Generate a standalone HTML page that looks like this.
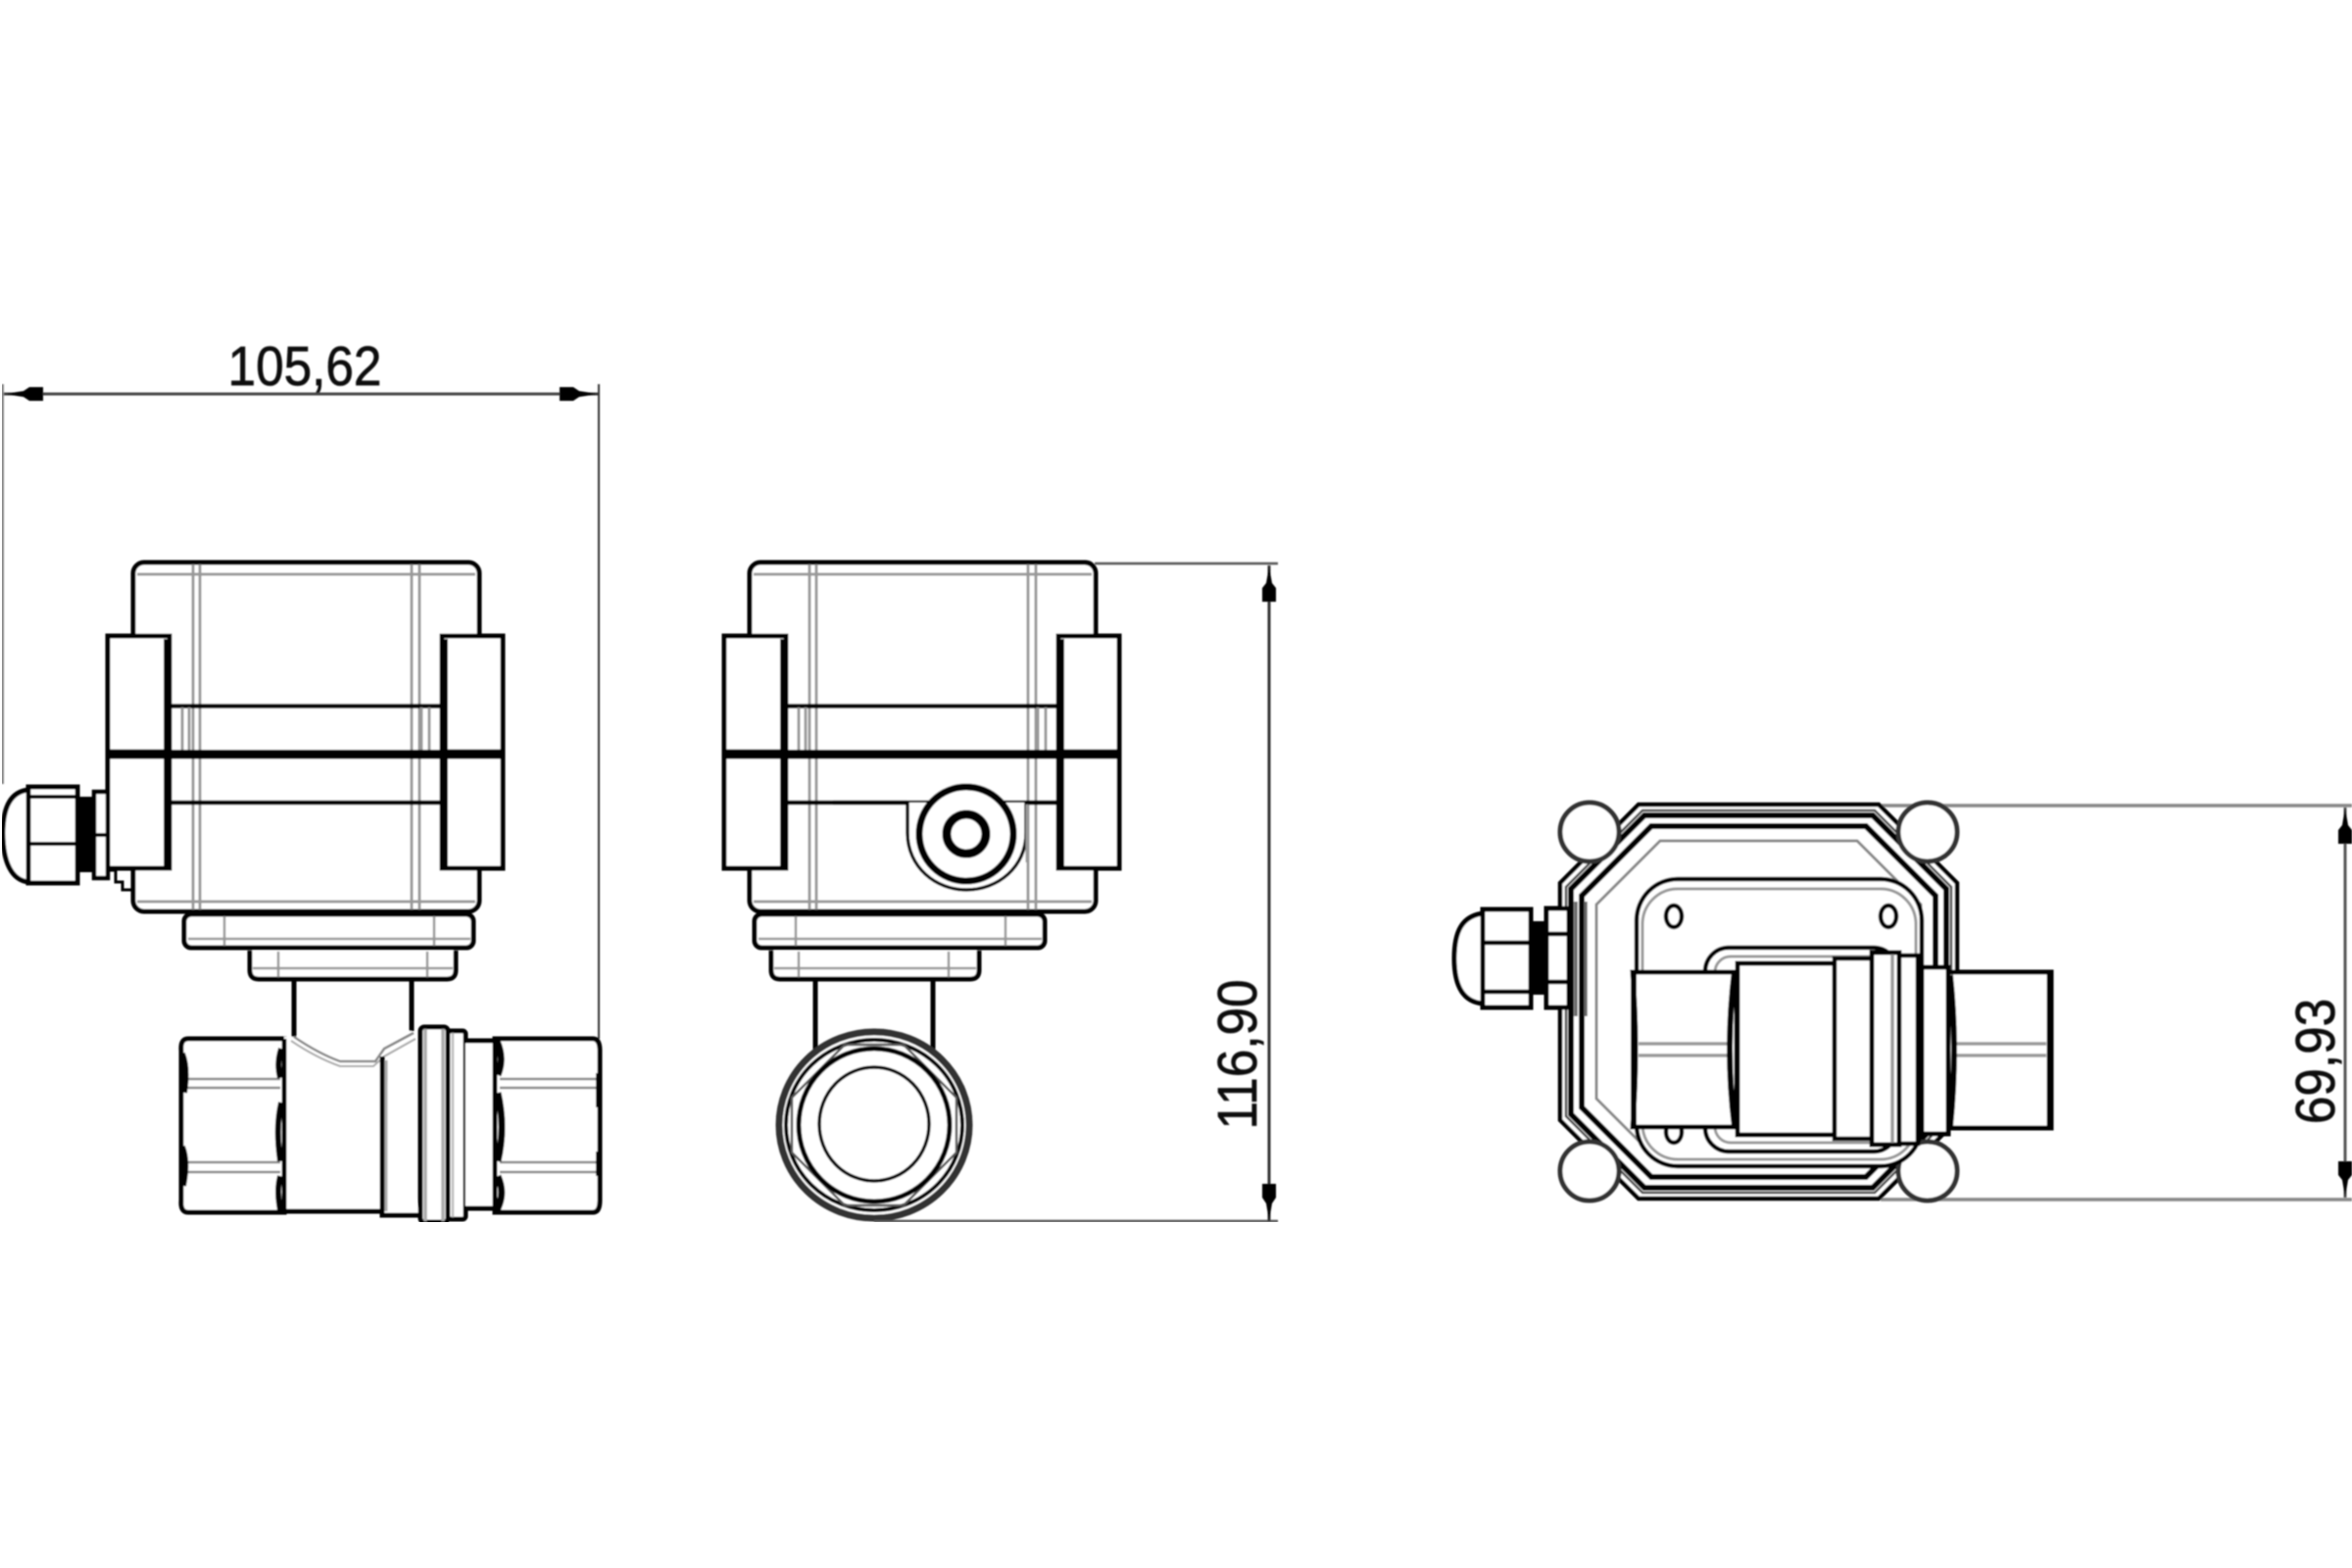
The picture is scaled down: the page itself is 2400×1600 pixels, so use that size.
<!DOCTYPE html>
<html><head><meta charset="utf-8"><style>html,body{margin:0;padding:0;background:#fff}svg{display:block}text{font-family:"Liberation Sans",sans-serif;font-size:57px;fill:#111;stroke:#111;stroke-width:.7;text-anchor:middle}</style></head>
<body>
<svg xmlns="http://www.w3.org/2000/svg" width="2400" height="1600" viewBox="0 0 2400 1600">
<defs>
<filter id="b" x="0" y="0" width="100%" height="100%"><feGaussianBlur stdDeviation="0.7"/></filter>
<g id="act">
  <rect x="136" y="574" width="353" height="356" rx="11" fill="#fff" stroke="#000" stroke-width="5"/>
  <g stroke="#999" stroke-width="3" fill="none">
    <path d="M140 586H485M140 920H485"/>
    <path d="M197 576V928M204 576V928M420 576V928M428 576V928"/>
  </g>
  <path d="M173 720.5H451M173 819H451" stroke="#000" stroke-width="4.5" fill="none"/>
  <path d="M186 722V766M193 722V766M430 722V766M438 722V766" stroke="#999" stroke-width="3"/>
  <g fill="#fff" stroke="#000" stroke-width="5">
    <path d="M110 649H173V767H110Z"/>
    <path d="M451 649H513V767H451Z"/>
    <path d="M110 772H173V886H110Z"/>
    <path d="M451 772H513V886H451Z"/>
  </g>
  <path d="M169 652V884M455 652V884" stroke="#000" stroke-width="4" fill="none"/>
  <path d="M110 767.5H513M110 772H513" stroke="#000" stroke-width="5"/>
</g>
</defs>
<rect width="2400" height="1600" fill="#fff"/>
<g filter="url(#b)">

<!-- top dimension -->
<path d="M2 402H611" stroke="#444" stroke-width="3"/>
<path d="M4 402L24 399L30 395L44 395V409L30 409L24 405Z" fill="#000"/>
<path d="M611 402L591 399L585 395L571 395V409L585 409L591 405Z" fill="#000"/>
<path d="M2 392V800" stroke="#888" stroke-width="4"/>
<path d="M611 392V1060" stroke="#333" stroke-width="2"/>
<text transform="translate(311,393) scale(.9,1)">105,62</text>

<!-- LEFT VIEW -->
<use href="#act"/>
<rect x="188" y="933" width="295" height="34" rx="7" fill="#fff" stroke="#000" stroke-width="5"/>
<path d="M192 958H480M229 935V965M443 935V965" stroke="#999" stroke-width="2.5" fill="none"/>
<path d="M255 970V990Q255 999 264 999H456Q465 999 465 990V970" fill="#fff" stroke="#000" stroke-width="5"/>
<path d="M258 988H462M284 971V997M436 971V997" stroke="#999" stroke-width="2.5" fill="none"/>
<path d="M300 999V1058M420 999V1052" stroke="#000" stroke-width="5" fill="none"/>
<!-- gland left -->
<path d="M29 806C10 808 3 825 3 850C3 880 12 898 29 900Z" fill="#fff" stroke="#000" stroke-width="5"/>
<rect x="29" y="803" width="50" height="98" fill="#fff" stroke="#000" stroke-width="5"/>
<path d="M29 861H79M29 813H79" stroke="#000" stroke-width="4"/>
<rect x="79" y="813" width="19" height="77" fill="#000"/>
<path d="M96 808H110V896H96Z" fill="#fff" stroke="#000" stroke-width="4.5"/>
<path d="M98 852H110" stroke="#000" stroke-width="4"/>
<path d="M110 888H118V900H125V908H134" fill="none" stroke="#000" stroke-width="3"/>
<!-- valve -->
<path d="M192 1060H290V1237H192Q184 1237 185 1225V1072Q184 1060 192 1060Z" fill="#fff" stroke="#000" stroke-width="5"/>
<path d="M188 1101H286M188 1110H286M188 1186H286M188 1196H286" stroke="#888" stroke-width="2.5"/>
<path d="M186 1075Q192 1090 188 1115M186 1170Q192 1185 187 1210" fill="none" stroke="#000" stroke-width="6"/>
<path d="M287 1070Q282 1085 286 1100M287 1125Q281 1150 286 1185M286 1200Q282 1215 286 1235" fill="none" stroke="#000" stroke-width="6"/>
<path d="M290 1058V1236H390V1070L420 1052L300 1058Z" fill="#fff"/>
<path d="M300 1058Q325 1075 347 1083H383L392 1070L422 1054" fill="none" stroke="#888" stroke-width="2.5"/>
<path d="M297 1062Q322 1079 347 1088H381L392 1078L424 1060" fill="none" stroke="#aaa" stroke-width="2"/>
<path d="M290 1060V1236H390" fill="none" stroke="#000" stroke-width="5"/>
<path d="M390 1078V1240H428" fill="#fff" stroke="#000" stroke-width="5"/>
<path d="M394 1082V1236" stroke="#aaa" stroke-width="3"/>
<rect x="429" y="1048" width="28" height="199" rx="4" fill="#fff" stroke="#000" stroke-width="5"/>
<path d="M434 1050V1246M452 1050V1246" stroke="#aaa" stroke-width="3.5"/>
<rect x="457" y="1052" width="18" height="192" rx="3" fill="#fff" stroke="#000" stroke-width="5"/>
<path d="M462 1054V1242" stroke="#bbb" stroke-width="2.5"/>
<path d="M475 1062H505V1233H475" fill="#fff" stroke="#000" stroke-width="5"/>
<path d="M505 1060H605Q612 1060 612 1072V1225Q612 1237 605 1237H505Z" fill="#fff" stroke="#000" stroke-width="5"/>
<path d="M510 1101H608M510 1110H608M510 1186H608M510 1196H608" stroke="#888" stroke-width="2.5"/>
<path d="M507 1062Q515 1080 508 1097M508 1115Q516 1150 508 1185M508 1200Q516 1218 507 1235" fill="none" stroke="#000" stroke-width="7"/>
<path d="M611 1095V1130M611 1175V1200" stroke="#000" stroke-width="6"/>

<!-- MIDDLE VIEW -->
<use href="#act" x="629"/>
<path d="M926 819V850C926 885 955 908 986 908C1018 908 1047 885 1047 850V819" fill="#fff" stroke="#000" stroke-width="3.5"/>
<path d="M850 819H926M1047 819H1080" stroke="#000" stroke-width="4.5"/>
<path d="M1048 821V880" stroke="#999" stroke-width="3"/>
<circle cx="986" cy="851" r="48" fill="#fff" stroke="#000" stroke-width="7"/>
<circle cx="986" cy="851" r="20" fill="#fff" stroke="#000" stroke-width="9"/>
<rect x="770" y="933" width="296" height="34" rx="7" fill="#fff" stroke="#000" stroke-width="5"/>
<path d="M774 958H1063M812 935V965M1026 935V965" stroke="#999" stroke-width="2.5" fill="none"/>
<path d="M787 970V990Q787 999 796 999H990Q999 999 999 990V970" fill="#fff" stroke="#000" stroke-width="5"/>
<path d="M790 988H996M815 971V997M968 971V997" stroke="#999" stroke-width="2.5" fill="none"/>
<path d="M832 999V1075M952 999V1075" stroke="#000" stroke-width="5" fill="none"/>
<ellipse cx="892" cy="1148" rx="97" ry="95" fill="#fff" stroke="#333" stroke-width="7"/>
<ellipse cx="892" cy="1148" rx="90" ry="87" fill="none" stroke="#000" stroke-width="4"/>
<path d="M862 1066H922L976 1120V1176L922 1230H862L808 1176V1120Z" fill="none" stroke="#555" stroke-width="2.5"/>
<ellipse cx="892" cy="1148" rx="77" ry="78" fill="#fff" stroke="#000" stroke-width="5"/>
<ellipse cx="892" cy="1147" rx="56" ry="58" fill="#fff" stroke="#000" stroke-width="3.5"/>

<!-- middle dimension -->
<path d="M1117 575H1304M892 1246H1304" stroke="#555" stroke-width="2.5"/>
<path d="M1295 577V1246" stroke="#333" stroke-width="3"/>
<path d="M1295 578L1292 595L1288 600V614H1302V600L1298 595Z" fill="#000"/>
<path d="M1295 1246L1292 1228L1288 1222V1208H1302V1222L1298 1228Z" fill="#000"/>
<text transform="translate(1282,1076) rotate(-90) scale(.9,1)">116,90</text>

<!-- RIGHT VIEW -->
<path d="M1919 822H2400M1919 1224H2400" stroke="#888" stroke-width="3.5"/>
<path d="M2393 824V1222" stroke="#555" stroke-width="3"/>
<path d="M2393 824L2390 842L2386 847V861H2400V847L2396 842Z" fill="#000"/>
<path d="M2393 1222L2390 1204L2386 1199V1185H2400V1199L2396 1204Z" fill="#000"/>
<text transform="translate(2382,1083) rotate(-90) scale(.9,1)">69,93</text>

<polygon points="1672,821 1917,821 1997,901 1997,1143 1917,1223 1672,1223 1592,1143 1592,901" fill="#fff" stroke="#000" stroke-width="4.5"/>
<polygon points="1676,827 1913,827 1991,905 1991,1139 1913,1217 1676,1217 1598,1139 1598,905" fill="none" stroke="#444" stroke-width="2.5"/>
<polygon points="1678,832 1911,832 1986,907 1986,1137 1911,1212 1678,1212 1603,1137 1603,907" fill="none" stroke="#000" stroke-width="6"/>
<polygon points="1685,843 1904,843 1975,914 1975,1130 1904,1201 1685,1201 1614,1130 1614,914" fill="none" stroke="#000" stroke-width="6"/>
<polygon points="1694,858 1895,858 1960,923 1960,1121 1895,1186 1694,1186 1629,1121 1629,923" fill="none" stroke="#888" stroke-width="3"/>
<circle cx="1622" cy="849" r="30" fill="#fff" stroke="#333" stroke-width="5"/>
<circle cx="1967" cy="849" r="30" fill="#fff" stroke="#333" stroke-width="5"/>
<circle cx="1622" cy="1195" r="30" fill="#fff" stroke="#333" stroke-width="5"/>
<circle cx="1967" cy="1195" r="30" fill="#fff" stroke="#333" stroke-width="5"/>
<rect x="1670" y="897" width="291" height="293" rx="42" fill="#fff" stroke="#000" stroke-width="4.5"/>
<rect x="1676" y="907" width="279" height="276" rx="36" fill="none" stroke="#999" stroke-width="3"/>
<ellipse cx="1708" cy="935" rx="8" ry="11" fill="#fff" stroke="#000" stroke-width="4.5"/>
<ellipse cx="1927" cy="935" rx="8" ry="11" fill="#fff" stroke="#000" stroke-width="4.5"/>
<ellipse cx="1708" cy="1155" rx="8" ry="11" fill="#fff" stroke="#000" stroke-width="4.5"/>
<rect x="1740" y="967" width="196" height="208" rx="24" fill="#fff" stroke="#000" stroke-width="4.5"/>
<rect x="1750" y="976" width="180" height="190" rx="16" fill="none" stroke="#999" stroke-width="3"/>
<path d="M1666 992H1772V1150H1666Q1672 1071 1666 992Z" fill="#fff" stroke="#000" stroke-width="5"/>
<path d="M1667 994V1148" stroke="#000" stroke-width="6"/>
<path d="M1672 1065H1768M1672 1077H1768" stroke="#999" stroke-width="3.5"/>
<path d="M1988 992H2093V1151H1988Z" fill="#fff" stroke="#000" stroke-width="5"/>
<path d="M2092 992V1151" stroke="#000" stroke-width="7"/>
<path d="M1992 1065H2088M1992 1077H2088" stroke="#999" stroke-width="3.5"/>
<rect x="1773" y="983" width="99" height="175" fill="#fff" stroke="#000" stroke-width="5"/>
<path d="M1770 990Q1760 1071 1770 1150" fill="none" stroke="#000" stroke-width="6"/>
<rect x="1872" y="978" width="38" height="184" fill="#fff" stroke="#000" stroke-width="4.5"/>
<rect x="1910" y="972" width="28" height="196" fill="#fff" stroke="#000" stroke-width="5"/>
<path d="M1931 974V1166" stroke="#999" stroke-width="3.5"/>
<rect x="1938" y="975" width="19" height="192" fill="#fff" stroke="#000" stroke-width="4.5"/>
<rect x="1961" y="987" width="27" height="170" fill="#fff" stroke="#000" stroke-width="5"/>
<path d="M1990 995Q1998 1071 1990 1150" fill="none" stroke="#000" stroke-width="6"/>
<path d="M1513 932C1492 935 1484 950 1484 978C1484 1005 1492 1022 1513 1024Z" fill="#fff" stroke="#000" stroke-width="5"/>
<rect x="1513" y="928" width="49" height="100" fill="#fff" stroke="#000" stroke-width="5"/>
<path d="M1513 962H1562M1513 1012H1562" stroke="#000" stroke-width="4.5"/>
<rect x="1562" y="940" width="18" height="75" fill="#000"/>
<rect x="1578" y="927" width="23" height="101" fill="#fff" stroke="#000" stroke-width="5"/>
<path d="M1578 953H1601M1578 1002H1601" stroke="#000" stroke-width="4.5"/>
<path d="M1608 920V1037M1618 920V1037" stroke="#666" stroke-width="3.5"/>
</g>
</svg>
</body></html>
